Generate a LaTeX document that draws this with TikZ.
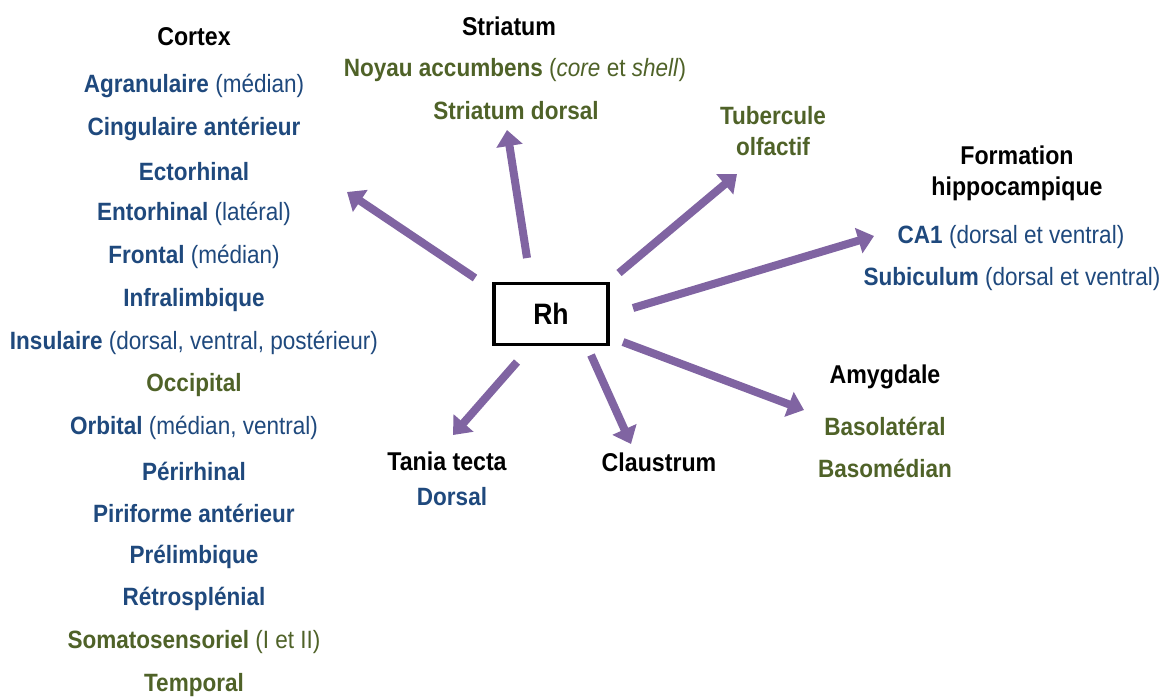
\documentclass[tikz,border=0pt]{standalone}
\usepackage{fontspec}
\setmainfont{Liberation Sans}[FakeStretch=0.9]
\usetikzlibrary{arrows.meta}
\definecolor{rhblue}{HTML}{1F497D}
\definecolor{rhgreen}{HTML}{4F6228}
\definecolor{rhpurple}{HTML}{8064A2}
\newcommand{\rmpart}[1]{{\mdseries #1}}

\begin{document}
\begin{tikzpicture}[x=0.025cm, y=-0.025cm,
  titre/.style={font=\fontsize{18.3}{22}\selectfont\bfseries, text=black, align=center, inner sep=1pt},
  zone/.style={font=\fontsize{17.8}{22}\selectfont\bfseries, inner sep=1pt, align=center},
  bleu/.style={zone, text=rhblue},
  vert/.style={zone, text=rhgreen},
  fleche/.style={rhpurple, line width=5.7pt, -{Triangle[length=0.4cm, width=0.64cm]}}]
  \useasboundingbox (0,0) rectangle (1168,698);
  % Noyau central
  \node[draw, line width=2.7pt, minimum width=2.85cm, minimum height=1.52cm,
        font=\fontsize{21}{24}\selectfont\bfseries] (rh) at (551,314) {Rh};
  % Cortex
  \node[titre] (ctx) at (194,37) {Cortex};
  \foreach \i/\nom/\col in {
    1/{Agranulaire \rmpart{(médian)}}/bleu,
    2/{Cingulaire antérieur}/bleu,
    3/{Ectorhinal}/bleu,
    4/{Entorhinal \rmpart{(latéral)}}/bleu,
    5/{Frontal \rmpart{(médian)}}/bleu,
    6/{Infralimbique}/bleu,
    7/{Insulaire \rmpart{(dorsal, ventral, postérieur)}}/bleu,
    8/{Occipital}/vert,
    9/{Orbital \rmpart{(médian, ventral)}}/bleu,
    10/{Périrhinal}/bleu,
    11/{Piriforme antérieur}/bleu,
    12/{Prélimbique}/bleu,
    13/{Rétrosplénial}/bleu,
    14/{Somatosensoriel \rmpart{(I et II)}}/vert,
    15/{Temporal}/vert} {
    \node[\col] (ctx-\i) at (194,{43+42.8*\i}) {\nom};
  }
  % Striatum
  \node[titre] (str) at (509,26) {Striatum};
  \node[vert] (str-1) at (515,70) {Noyau accumbens \rmpart{(\textit{core} et \textit{shell})}};
  \node[vert] (str-2) at (516,111) {Striatum dorsal};
  % Tubercule olfactif
  \node[vert] (tub) at (773,131) {Tubercule\\olfactif};
  % Formation hippocampique
  \node[titre] (hip) at (1017,173) {Formation\\hippocampique};
  \node[bleu] (hip-1) at (1011,237) {CA1 \rmpart{(dorsal et ventral)}};
  \node[bleu] (hip-2) at (1012,279) {Subiculum \rmpart{(dorsal et ventral)}};
  % Amygdale
  \node[titre] (amy) at (885,377) {Amygdale};
  \node[vert] (amy-1) at (885,426) {Basolatéral};
  \node[vert] (amy-2) at (885,468) {Basomédian};
  % Tania tecta et claustrum
  \node[titre] (tt) at (447,461) {Tania tecta};
  \node[bleu] (tt-1) at (452,497) {Dorsal};
  \node[titre] (cla) at (659,462) {Claustrum};
  % Extremites des fleches
  \coordinate (s-ctx) at (475,278);  \coordinate (t-ctx) at (347,192);
  \coordinate (s-str) at (527,258);  \coordinate (t-str) at (507,130);
  \coordinate (s-tub) at (619,273);  \coordinate (t-tub) at (737,174);
  \coordinate (s-hip) at (633,308);  \coordinate (t-hip) at (874,236);
  \coordinate (s-amy) at (623,342);  \coordinate (t-amy) at (804,410);
  \coordinate (s-cla) at (591,355);  \coordinate (t-cla) at (631,444);
  \coordinate (s-tt)  at (517,362);  \coordinate (t-tt)  at (453,435);
  % Projections
  \foreach \n in {ctx, str, tub, hip, amy, cla, tt}
    \draw[fleche] (s-\n) -- (t-\n);
\end{tikzpicture}
\end{document}
